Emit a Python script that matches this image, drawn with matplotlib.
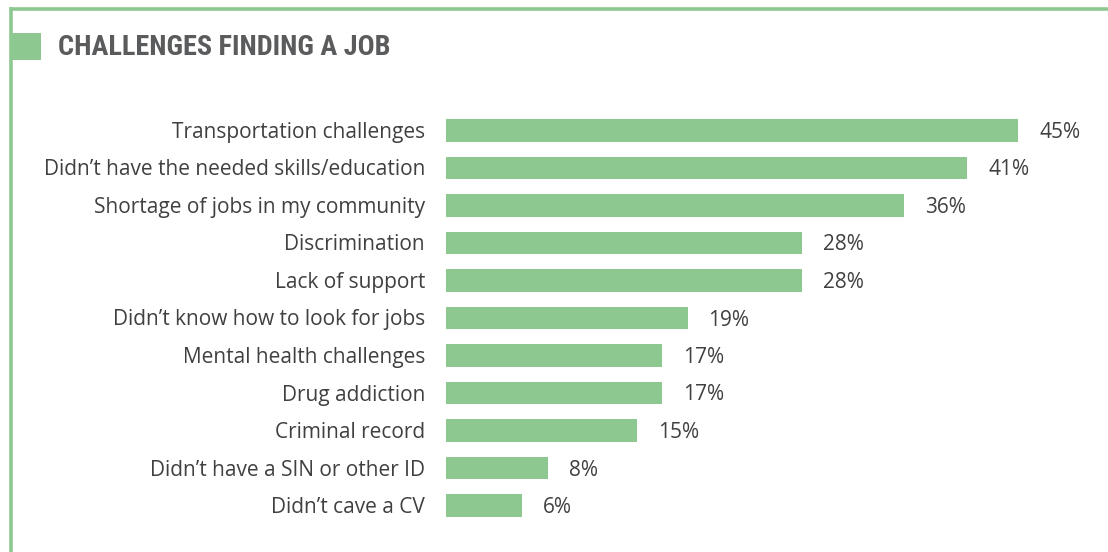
"""Horizontal bar chart: challenges reported when finding a job."""

import matplotlib

matplotlib.use("Agg")
import matplotlib.pyplot as plt
from matplotlib import font_manager
from matplotlib.lines import Line2D
from matplotlib.patches import Rectangle

challenges = [
    "Transportation challenges",
    "Didn’t have the needed skills/education",
    "Shortage of jobs in my community",
    "Discrimination",
    "Lack of support",
    "Didn’t know how to look for jobs",
    "Mental health challenges",
    "Drug addiction",
    "Criminal record",
    "Didn’t have a SIN or other ID",
    "Didn’t cave a CV",
]
shares = [45, 41, 36, 28, 28, 19, 17, 17, 15, 8, 6]

GREEN = "#8dc891"
TEXT = "#404040"
TITLE = "#5a5b5d"

W, H = 1108, 552


def pick_family(candidates):
    names = {f.name for f in font_manager.fontManager.ttflist}
    for name in candidates:
        if name in names:
            return name
    return "DejaVu Sans"


title_family = pick_family(["Liberation Sans Narrow", "Roboto Condensed", "DejaVu Sans"])
body_family = pick_family(["Open Sans", "Noto Sans", "DejaVu Sans"])

fig = plt.figure(figsize=(W / 100, H / 100), dpi=100)

# frame: green rule along the top and down the left side
fig.add_artist(Line2D([11 / W, 1], [1 - 8.5 / H, 1 - 8.5 / H], color=GREEN, lw=2.6,
                      solid_capstyle="butt"))
fig.add_artist(Line2D([11 / W, 11 / W], [1 - 7 / H, 0], color=GREEN, lw=2.6,
                      solid_capstyle="butt"))
fig.add_artist(Rectangle((12 / W, 1 - 60 / H), 29 / W, 27 / H, transform=fig.transFigure,
                         color=GREEN, lw=0))
fig.text(58 / W, 1 - 48 / H, "CHALLENGES FINDING A JOB", family=title_family,
         fontsize=20.3, fontweight="bold", color=TITLE, va="center", ha="left")

row_h = 37.5
top = 130.5 - row_h / 2
bottom = 505.5 + row_h / 2
left = 446
px_per_pct = 572 / 45
xmax = 50
ax = fig.add_axes([left / W, 1 - bottom / H, xmax * px_per_pct / W, (bottom - top) / H])

pos = list(range(len(challenges)))
ax.barh(pos, shares, height=0.59, color=GREEN, lw=0)
ax.set_xlim(0, xmax)
ax.set_ylim(len(challenges) - 0.5, -0.5)
ax.axis("off")

for y, label, v in zip(pos, challenges, shares):
    ax.annotate(label, (0, y), xytext=(-21, -2), textcoords="offset pixels",
                ha="right", va="center", fontsize=15, color=TEXT, family=body_family)
    ax.annotate(f"{v}%", (v, y), xytext=(21, -2), textcoords="offset pixels",
                ha="left", va="center", fontsize=15, color=TEXT, family=body_family)

fig.savefig("out.png", dpi=100)
